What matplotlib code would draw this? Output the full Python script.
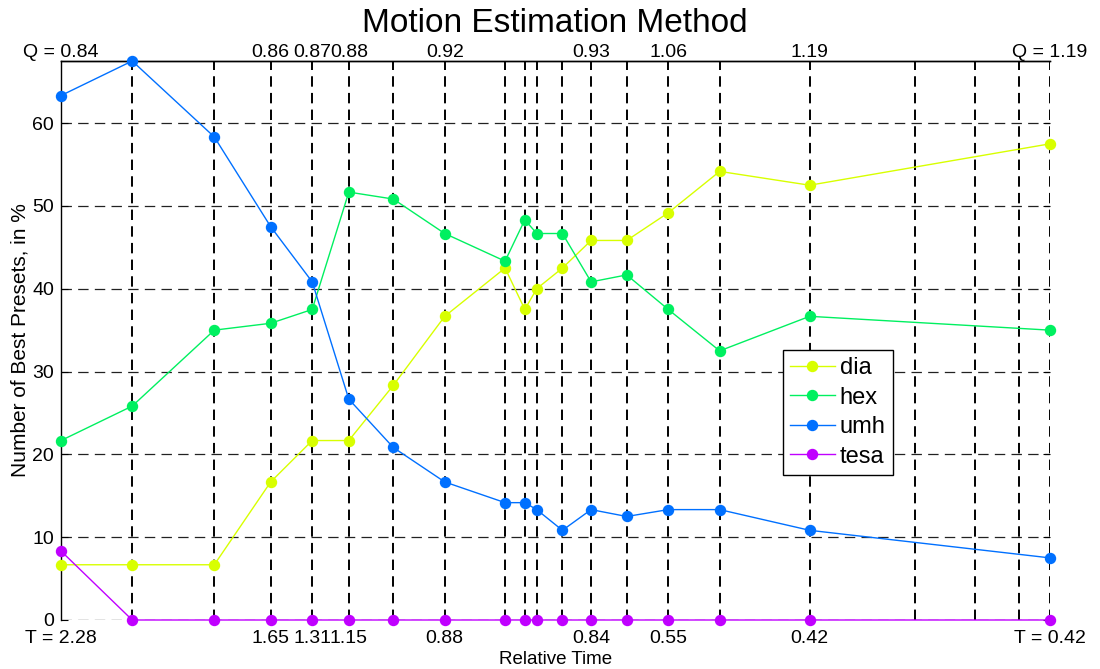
import matplotlib
matplotlib.use("Agg")
import matplotlib.pyplot as plt

# Tick positions along the horizontal axis (arbitrary position units)
x_ticks = [0, 7.2, 15.5, 21.2, 25.4, 29.1, 33.6, 38.8, 44.9, 46.9, 48.1,
           50.7, 53.6, 57.2, 61.4, 66.6, 75.7, 86.3, 92.4, 96.9, 100]
# Positions that carry a measured point
x_data = [0, 7.2, 15.5, 21.2, 25.4, 29.1, 33.6, 38.8, 44.9, 46.9, 48.1,
          50.7, 53.6, 57.2, 61.4, 66.6, 75.7, 100]

top_labels = ["Q = 0.84", "", "", "0.86", "0.87", "0.88", "", "0.92", "", "", "",
              "", "0.93", "", "1.06", "", "1.19", "", "", "", "Q = 1.19"]
bottom_labels = ["T = 2.28", "", "", "1.65", "1.31", "1.15", "", "0.88", "", "", "",
                 "", "0.84", "", "0.55", "", "0.42", "", "", "", "T = 0.42"]

dia = [6.67, 6.67, 6.67, 16.67, 21.67, 21.67, 28.33, 36.67, 42.5, 37.5,
       40.0, 42.5, 45.83, 45.83, 49.17, 54.17, 52.5, 57.5]
hex_ = [21.67, 25.83, 35.0, 35.83, 37.5, 51.67, 50.83, 46.67, 43.33, 48.33,
        46.67, 46.67, 40.83, 41.67, 37.5, 32.5, 36.67, 35.0]
umh = [63.33, 67.5, 58.33, 47.5, 40.83, 26.67, 20.83, 16.67, 14.17, 14.17,
       13.33, 10.83, 13.33, 12.5, 13.33, 13.33, 10.83, 7.5]
tesa = [8.33, 0, 0, 0, 0, 0, 0, 0, 0, 0, 0, 0, 0, 0, 0, 0, 0, 0]

series = [("dia", dia, "#D8FF00"), ("hex", hex_, "#00F060"),
          ("umh", umh, "#0070FF"), ("tesa", tesa, "#C000FF")]

plt.rcParams["font.family"] = ["Liberation Sans", "DejaVu Sans"]
plt.rcParams["lines.scale_dashes"] = False

fig = plt.figure(figsize=(11, 6.69), dpi=100)
ax = fig.add_axes([61 / 1100, 1 - 620 / 669, 989 / 1100, 559 / 669])

for name, vals, col in series:
    ax.plot(x_data, vals, "-o", color=col, lw=1.0, ms=7.2, mec=col, mfc=col,
            label=name, clip_on=False, zorder=3)

ax.set_xlim(0, 100)
ax.set_ylim(0, 67.5)
ax.set_yticks(range(0, 61, 10))
ax.set_xticks(x_ticks)
ax.set_xticklabels(bottom_labels)

ax.xaxis.grid(True, color="black", lw=1.4, linestyle=(0, (7.5, 4.5)))
ax.yaxis.grid(True, color="#222222", lw=0.9, linestyle=(0, (7.5, 4.5)))
ax.set_axisbelow(True)

for side in ("bottom", "right"):
    ax.spines[side].set_visible(False)
for side in ("left", "top"):
    ax.spines[side].set_linewidth(1.0)
    ax.spines[side].set_zorder(2.6)

ax.tick_params(axis="y", direction="in", length=5, labelsize=14, pad=5,
               right=True)
ax.tick_params(axis="x", direction="in", length=0, labelsize=14, pad=7)

top = ax.secondary_xaxis("top")
top.set_xticks(x_ticks)
top.set_xticklabels(top_labels)
top.tick_params(direction="in", length=0, labelsize=14, pad=0)
top.spines["top"].set_linewidth(1.0)

fig.text(555 / 1100, 1 - 23 / 669, "Motion Estimation Method", fontsize=24,
         ha="center", va="center")
ax.set_xlabel("Relative Time", fontsize=13.5, labelpad=3)
ax.set_ylabel("Number of Best Presets, in %", fontsize=15, labelpad=2)

leg = ax.legend(loc="upper left", bbox_to_anchor=(0.730, 0.483), fontsize=17,
                fancybox=False, framealpha=1, edgecolor="black",
                handlelength=1.9, labelspacing=0.32, borderpad=0.3,
                handletextpad=0.2, borderaxespad=0)
leg.get_frame().set_linewidth(1.0)

fig.savefig("out.png", dpi=100, facecolor="white")
